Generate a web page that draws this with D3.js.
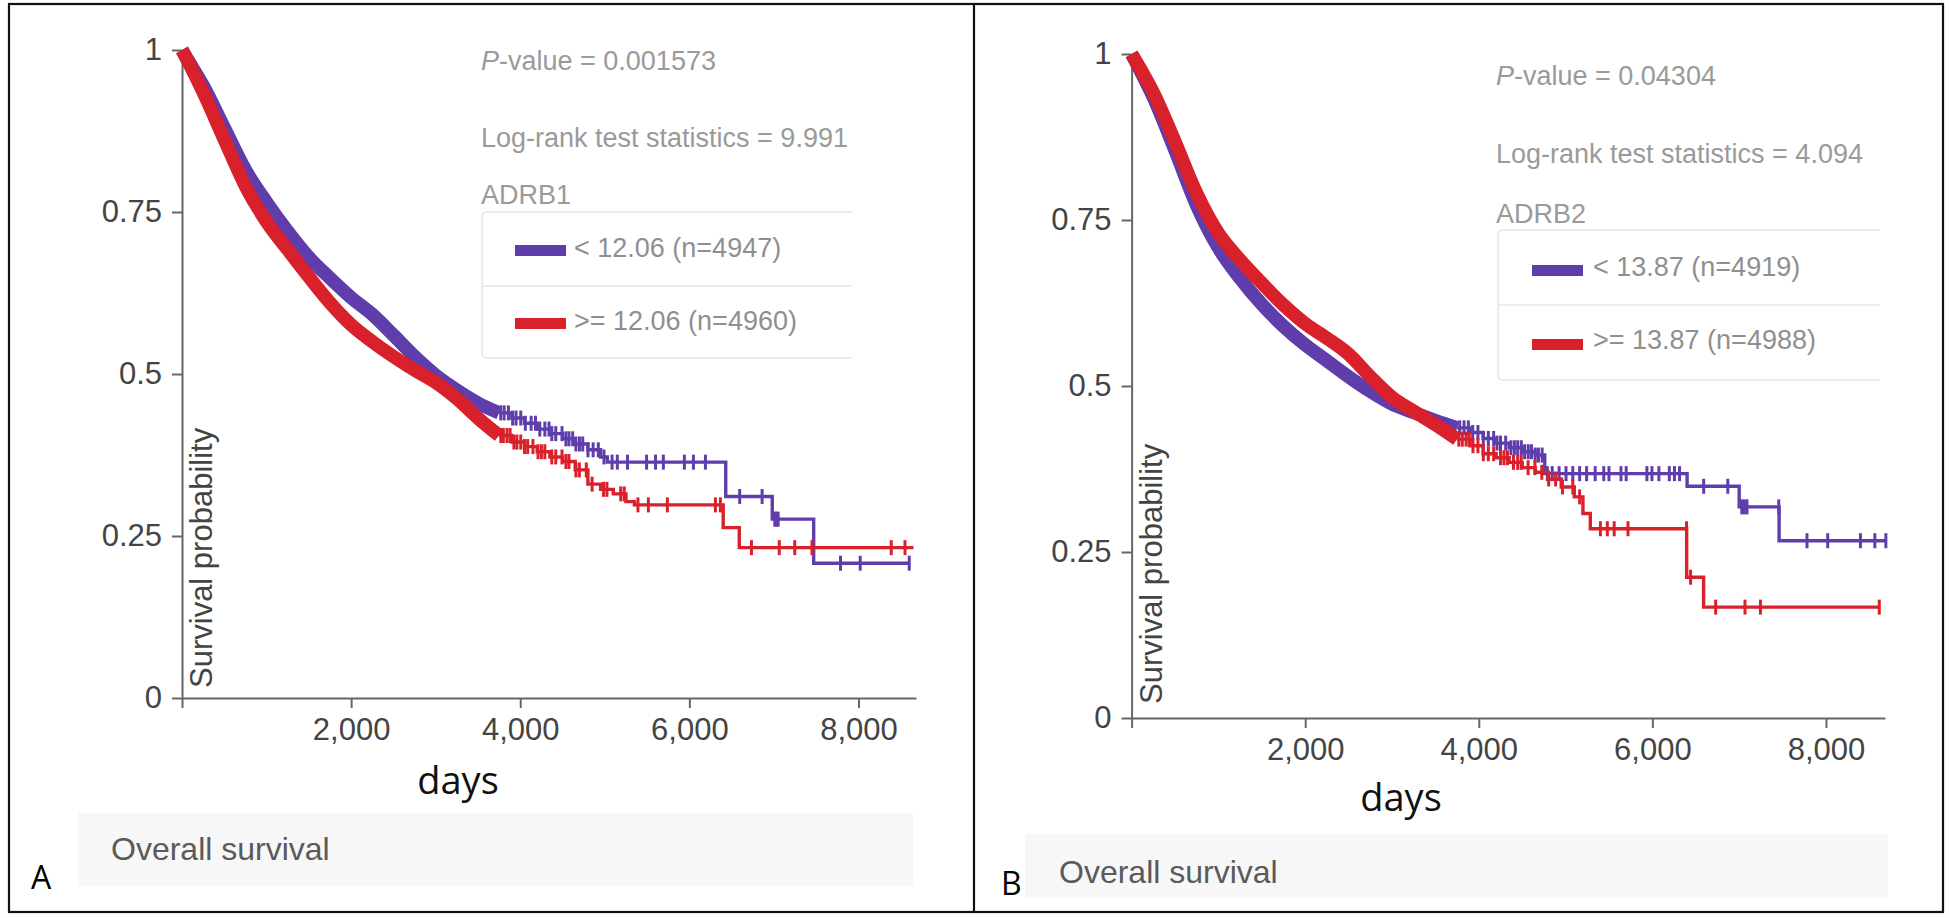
<!DOCTYPE html>
<html><head><meta charset="utf-8">
<script src="https://cdn.jsdelivr.net/npm/d3@7"></script>
<style>body{margin:0;background:#fff}svg{display:block}</style>
</head><body>
<svg id="chart" width="1950" height="918"></svg>
<script>
// ---------- shared ----------
const xTicks = [0, 2000, 4000, 6000, 8000];
const yTicks = [0, 0.25, 0.5, 0.75, 1];
const daysMax = 8680;
const lowColor = "#5f3dab";
const highColor = "#d9212b";

// ---------- Panel A (ADRB1) ----------
const A_gene = "ADRB1";
const A_pValue = "0.001573";
const A_logRank = "9.991";
const A_lowLabel = "< 12.06 (n=4947)";
const A_highLabel = ">= 12.06 (n=4960)";
const A_smoothDays = [0, 100, 250, 500, 750, 1000, 1250, 1500, 1750, 2000, 2250, 2500, 2750, 3000, 3250, 3500, 3750];
const A_lowSmooth  = [1, 0.978, 0.945, 0.88, 0.815, 0.765, 0.72, 0.68, 0.648, 0.618, 0.592, 0.56, 0.527, 0.498, 0.475, 0.455, 0.44];
const A_highSmooth = [1, 0.975, 0.935, 0.862, 0.79, 0.735, 0.692, 0.65, 0.61, 0.576, 0.55, 0.527, 0.506, 0.487, 0.462, 0.432, 0.405];
const A_lowStepDays = [3750, 3900, 4050, 4200, 4350, 4500, 4650, 4800, 4950, 5030, 6430, 6980, 7470];
const A_lowStepSurv = [0.44, 0.432, 0.424, 0.415, 0.408, 0.4, 0.392, 0.383, 0.372, 0.364, 0.311, 0.276, 0.208];
const A_lowEnd = 8600;
const A_highStepDays = [3750, 3900, 4050, 4200, 4350, 4500, 4650, 4800, 4950, 5100, 5250, 5350, 6400, 6590];
const A_highStepSurv = [0.405, 0.395, 0.388, 0.38, 0.372, 0.365, 0.352, 0.33, 0.322, 0.315, 0.303, 0.298, 0.263, 0.232];
const A_highEnd = 8650;
const A_lowCensor = [3770, 3810, 3860, 3910, 3950, 4006, 4060, 4129, 4180, 4231, 4291, 4340, 4373, 4420, 4494, 4540, 4576, 4620, 4658, 4700, 4739, 4801, 4862, 4923, 4990, 5086, 5148, 5268, 5494, 5600, 5692, 5941, 6048, 6190, 6595, 6860, 7010, 7030, 7050, 7787, 8020, 8600];
const A_highCensor = [3770, 3800, 3843, 3880, 3925, 3960, 4006, 4050, 4088, 4150, 4210, 4250, 4291, 4373, 4420, 4494, 4540, 4576, 4658, 4699, 4781, 4850, 4985, 5025, 5188, 5229, 5392, 5515, 5740, 6308, 6367, 6734, 7063, 7246, 7450, 8387, 8550];

// ---------- Panel B (ADRB2) ----------
const B_gene = "ADRB2";
const B_pValue = "0.04304";
const B_logRank = "4.094";
const B_lowLabel = "< 13.87 (n=4919)";
const B_highLabel = ">= 13.87 (n=4988)";
const B_smoothDays = [0, 100, 250, 500, 750, 1000, 1250, 1500, 1750, 2000, 2250, 2500, 2750, 3000, 3250, 3500, 3750];
const B_lowSmooth  = [1, 0.975, 0.935, 0.855, 0.772, 0.708, 0.662, 0.623, 0.59, 0.562, 0.538, 0.514, 0.492, 0.473, 0.46, 0.448, 0.437];
const B_highSmooth = [1, 0.978, 0.942, 0.868, 0.79, 0.73, 0.69, 0.655, 0.622, 0.594, 0.572, 0.548, 0.514, 0.483, 0.462, 0.442, 0.42];
const B_lowStepDays = [3750, 3900, 4050, 4200, 4350, 4500, 4650, 4760, 6400, 7000, 7460];
const B_lowStepSurv = [0.437, 0.43, 0.421, 0.414, 0.407, 0.401, 0.396, 0.368, 0.349, 0.318, 0.267];
const B_lowEnd = 8690;
const B_highStepDays = [3750, 3900, 4050, 4200, 4350, 4500, 4650, 4800, 4950, 5100, 5200, 5285, 6395, 6590];
const B_highStepSurv = [0.42, 0.41, 0.398, 0.392, 0.385, 0.377, 0.37, 0.36, 0.348, 0.333, 0.308, 0.285, 0.212, 0.167];
const B_highEnd = 8614;
const B_lowCensor = [3780, 3830, 3880, 3930, 3990, 4052, 4110, 4171, 4210, 4250, 4310, 4370, 4410, 4448, 4490, 4528, 4570, 4607, 4650, 4687, 4730, 4790, 4846, 4925, 5005, 5083, 5162, 5242, 5341, 5440, 5500, 5638, 5698, 5937, 5995, 6075, 6195, 6254, 6313, 6591, 6869, 7030, 7060, 7090, 7456, 7781, 8020, 8397, 8563, 8690];
const B_highCensor = [3770, 3810, 3854, 3890, 3933, 3990, 4052, 4110, 4171, 4250, 4290, 4330, 4400, 4448, 4489, 4568, 4647, 4726, 4805, 4885, 4964, 5083, 5162, 5401, 5481, 5560, 5719, 6393, 6440, 6729, 7067, 7245, 8614];

const svg = d3.select("#chart");
const SANS = "'Liberation Sans', Arial, sans-serif";

// frame
svg.append("rect").attr("x", 9).attr("y", 4).attr("width", 1934).attr("height", 908)
  .attr("fill", "none").attr("stroke", "#111").attr("stroke-width", 2.2);
svg.append("line").attr("x1", 974).attr("x2", 974).attr("y1", 4).attr("y2", 912)
  .attr("stroke", "#111").attr("stroke-width", 2.2);

function stepPoints(days, surv, end) {
  const pts = days.map((d, i) => [d, surv[i]]);
  pts.push([end, surv[surv.length - 1]]);
  return pts;
}
function survAt(days, surv, t) {
  const i = d3.bisectRight(days, t) - 1;
  return surv[Math.max(0, i)];
}

function drawPanel(p) {
  const g = svg.append("g");
  const x = d3.scaleLinear().domain([0, daysMax]).range(p.xRange);
  const y = d3.scaleLinear().domain([0, 1]).range(p.yRange);

  // bottom band
  g.append("rect").attr("x", p.band[0]).attr("y", p.band[1]).attr("width", p.band[2]).attr("height", p.band[3])
    .attr("fill", "#f7f7f7");
  g.append("text").attr("x", p.overallXY[0]).attr("y", p.overallXY[1]).text("Overall survival")
    .attr("font-family", SANS).attr("font-size", 32).attr("fill", "#5a5a5a");
  g.append("text").attr("x", p.letterXY[0]).attr("y", p.letterXY[1]).text(p.letter)
    .attr("font-family", "'Open Sans', sans-serif").attr("font-size", 32).attr("fill", "#000");

  // axes
  const xAxis = d3.axisBottom(x).tickValues(xTicks).tickSize(10).tickSizeOuter(0).tickPadding(10)
    .tickFormat(d => d === 0 ? "" : d3.format(",")(d));
  const yAxis = d3.axisLeft(y).tickValues(yTicks).tickSize(10).tickSizeOuter(0).tickPadding(10)
    .tickFormat(d => d3.format("")(d));
  const gx = g.append("g").attr("transform", `translate(0,${p.yRange[0]})`).call(xAxis);
  const gy = g.append("g").attr("transform", `translate(${p.xRange[0]},0)`).call(yAxis);
  [gx, gy].forEach(a => {
    a.selectAll("path,line").attr("stroke", "#666").attr("stroke-width", 2);
    a.selectAll("text").attr("font-family", SANS).attr("font-size", 31).attr("fill", "#444");
  });

  // axis titles
  g.append("text").attr("transform", `translate(${p.yLabelXY[0]},${p.yLabelXY[1]}) rotate(-90)`)
    .text("Survival probability").attr("font-family", SANS).attr("font-size", 31).attr("fill", "#444");
  g.append("text").attr("x", p.daysXY[0]).attr("y", p.daysXY[1]).attr("text-anchor", "middle").text("days")
    .attr("font-family", "'Open Sans', sans-serif").attr("font-size", 38).attr("fill", "#111");

  // stats
  const st = g.append("g").attr("font-family", SANS).attr("font-size", 27).attr("fill", "#9a9a9a");
  const pv = st.append("text").attr("x", p.statX).attr("y", p.statY[0]);
  pv.append("tspan").attr("font-style", "italic").text("P");
  pv.append("tspan").text("-value = " + p.pValue);
  st.append("text").attr("x", p.statX).attr("y", p.statY[1]).text("Log-rank test statistics = " + p.logRank);
  st.append("text").attr("x", p.statX).attr("y", p.statY[2]).text(p.gene);

  // legend box (clipped on right)
  const L = p.legend;
  const r = 5;
  g.append("path").attr("d",
      `M${L.x1},${L.y0} L${L.x0 + r},${L.y0} Q${L.x0},${L.y0} ${L.x0},${L.y0 + r} L${L.x0},${L.y2 - r} Q${L.x0},${L.y2} ${L.x0 + r},${L.y2} L${L.x1},${L.y2}`)
    .attr("fill", "none").attr("stroke", "#e6e6e6").attr("stroke-width", 1.5);
  g.append("line").attr("x1", L.x0).attr("x2", L.x1).attr("y1", L.y1).attr("y2", L.y1)
    .attr("stroke", "#e6e6e6").attr("stroke-width", 1.5);
  const rows = [[lowColor, p.lowLabel, L.sw[0], L.tx[0]], [highColor, p.highLabel, L.sw[1], L.tx[1]]];
  rows.forEach(([c, lab, sy, ty]) => {
    g.append("rect").attr("x", L.swX).attr("y", sy).attr("width", 51).attr("height", 11).attr("fill", c);
    g.append("text").attr("x", L.txX).attr("y", ty).text(lab)
      .attr("font-family", SANS).attr("font-size", 27).attr("fill", "#8f8f8f");
  });

  // curves
  const lineSmooth = d3.line().x(d => x(d[0])).y(d => y(d[1])).curve(d3.curveMonotoneX);
  const lineStep = d3.line().x(d => x(d[0])).y(d => y(d[1])).curve(d3.curveStepAfter);
  p.series.forEach(s => {
    const sm = s.smoothDays.map((d, i) => [d, s.smooth[i]]);
    g.append("path").attr("d", lineSmooth(sm)).attr("fill", "none").attr("stroke", s.color)
      .attr("stroke-width", 13.5).attr("stroke-linejoin", "round");
    g.append("path").attr("d", lineStep(stepPoints(s.stepDays, s.stepSurv, s.end))).attr("fill", "none")
      .attr("stroke", s.color).attr("stroke-width", 3.4);
    g.selectAll(null).data(s.censor).enter().append("line")
      .attr("x1", d => x(d)).attr("x2", d => x(d))
      .attr("y1", d => y(survAt(s.stepDays, s.stepSurv, d)) - 7.5)
      .attr("y2", d => y(survAt(s.stepDays, s.stepSurv, d)) + 7.5)
      .attr("stroke", s.color).attr("stroke-width", 3);
  });
}

drawPanel({
  letter: "A", xRange: [182, 916], yRange: [698, 50],
  band: [78, 813, 835, 73], overallXY: [111, 860], letterXY: [31, 889],
  yLabelXY: [212, 688], daysXY: [458, 794],
  statX: 481, statY: [70, 147, 204], gene: A_gene, pValue: A_pValue, logRank: A_logRank,
  legend: {x0: 482, x1: 852, y0: 212, y1: 286, y2: 358, swX: 515, txX: 574, sw: [245, 318], tx: [257, 330]},
  lowLabel: A_lowLabel, highLabel: A_highLabel,
  series: [
    {color: lowColor, smoothDays: A_smoothDays, smooth: A_lowSmooth, stepDays: A_lowStepDays, stepSurv: A_lowStepSurv, end: A_lowEnd, censor: A_lowCensor},
    {color: highColor, smoothDays: A_smoothDays, smooth: A_highSmooth, stepDays: A_highStepDays, stepSurv: A_highStepSurv, end: A_highEnd, censor: A_highCensor}
  ]
});

drawPanel({
  letter: "B", xRange: [1131.6, 1885], yRange: [718, 54],
  band: [1025, 834, 863, 64], overallXY: [1059, 883], letterXY: [1001, 895],
  yLabelXY: [1162, 704], daysXY: [1401, 811],
  statX: 1496, statY: [85, 163, 223], gene: B_gene, pValue: B_pValue, logRank: B_logRank,
  legend: {x0: 1498, x1: 1880, y0: 230, y1: 305, y2: 380, swX: 1532, txX: 1593, sw: [265, 339], tx: [276, 349]},
  lowLabel: B_lowLabel, highLabel: B_highLabel,
  series: [
    {color: lowColor, smoothDays: B_smoothDays, smooth: B_lowSmooth, stepDays: B_lowStepDays, stepSurv: B_lowStepSurv, end: B_lowEnd, censor: B_lowCensor},
    {color: highColor, smoothDays: B_smoothDays, smooth: B_highSmooth, stepDays: B_highStepDays, stepSurv: B_highStepSurv, end: B_highEnd, censor: B_highCensor}
  ]
});
</script>
</body></html>
